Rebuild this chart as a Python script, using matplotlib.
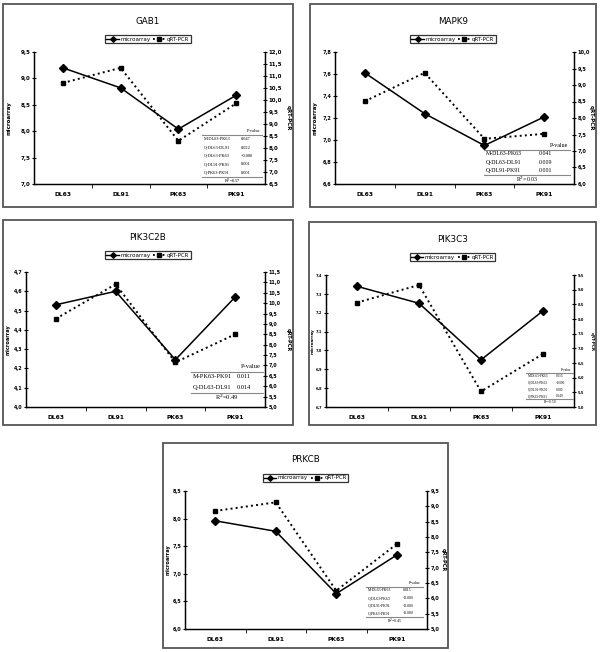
import matplotlib.pyplot as plt
from matplotlib.patches import Rectangle
from matplotlib.lines import Line2D

W, H = 600, 652

samples = ['DL63', 'DL91', 'PK63', 'PK91']

# microarray (left axis) and qRT-PCR (right axis) values
gab1_micro = [9.20, 8.82, 8.04, 8.68]
gab1_qpcr = [10.71, 11.34, 8.30, 9.86]
mapk9_micro = [7.61, 7.24, 6.95, 7.21]
mapk9_qpcr = [8.51, 9.37, 7.37, 7.52]
pik3c2b_micro = [4.53, 4.60, 4.245, 4.57]
pik3c2b_qpcr = [9.25, 10.91, 7.15, 8.50]
pik3c3_micro = [7.34, 7.25, 6.95, 7.21]
pik3c3_qpcr = [8.56, 9.16, 5.53, 6.81]
prkcb_micro = [7.96, 7.77, 6.64, 7.34]
prkcb_qpcr = [8.85, 9.13, 6.25, 7.77]

gab1_lticks = [7.0, 7.5, 8.0, 8.5, 9.0, 9.5]
gab1_rticks = [6.5, 7.0, 7.5, 8.0, 8.5, 9.0, 9.5, 10.0, 10.5, 11.0, 11.5, 12.0]
mapk9_lticks = [6.6, 6.8, 7.0, 7.2, 7.4, 7.6, 7.8]
mapk9_rticks = [6.0, 6.5, 7.0, 7.5, 8.0, 8.5, 9.0, 9.5, 10.0]
pik3c2b_lticks = [4.0, 4.1, 4.2, 4.3, 4.4, 4.5, 4.6, 4.7]
pik3c2b_rticks = [5.0, 5.5, 6.0, 6.5, 7.0, 7.5, 8.0, 8.5, 9.0, 9.5, 10.0, 10.5, 11.0, 11.5]
pik3c3_lticks = [6.7, 6.8, 6.9, 7.0, 7.1, 7.2, 7.3, 7.4]
pik3c3_rticks = [5.0, 5.5, 6.0, 6.5, 7.0, 7.5, 8.0, 8.5, 9.0, 9.5]
prkcb_lticks = [6.0, 6.5, 7.0, 7.5, 8.0, 8.5]
prkcb_rticks = [5.0, 5.5, 6.0, 6.5, 7.0, 7.5, 8.0, 8.5, 9.0, 9.5]

gab1_pvals = [('M-DL63-PK63', '0.047'), ('Q-DL63-DL91', '0.022'), ('Q-DL63-PK63', '<0.000'),
              ('Q-DL91-PK91', '0.001'), ('Q-PK63-PK91', '0.001')]
mapk9_pvals = [('M-DL63-PK63', '0.041'), ('Q-DL63-DL91', '0.009'), ('Q-DL91-PK91', '0.001')]
pik3c2b_pvals = [('M-PK63-PK91', '0.011'), ('Q-DL63-DL91', '0.014')]
pik3c3_pvals = [('M-DL63-PK63', '0.015'), ('Q-DL63-PK63', '<0.000'), ('Q-DL91-PK91', '0.000'),
                ('Q-PK63-PK91', '0.049')]
prkcb_pvals = [('M-DL63-PK63', '0.015'), ('Q-DL63-PK63', '<0.000'), ('Q-DL91-PK91', '<0.000'),
               ('Q-PK63-PK91', '<0.000')]

fig = plt.figure(figsize=(6, 6.52), dpi=100)


def fx(x):
    return x / W


def fy(y):
    return 1 - y / H


def fmt(v):
    return f'{v:.1f}'.replace('.', ',')


def panel(box, axbox, title, micro, qpcr, lticks, rticks, pvals, r2, tab,
          tfs=4.3, lfs=4.0, lx=5.5):
    x0, y0, x1, y1 = box
    fig.patches.append(Rectangle((fx(x0), fy(y1)), fx(x1 - x0), (y1 - y0) / H,
                                 transform=fig.transFigure, fill=False,
                                 ec='#555555', lw=1.3))
    ax0, ay0, ax1, ay1 = axbox
    ax = fig.add_axes([fx(ax0), fy(ay1), fx(ax1 - ax0), (ay1 - ay0) / H])
    ax2 = ax.twinx()
    xs = range(len(samples))
    ax.plot(xs, micro, '-', color='k', lw=1.1, marker='D', ms=3.8, zorder=3)
    ax2.plot(xs, qpcr, ':', color='k', lw=1.4, marker='s', ms=3.5)
    ax.set_xlim(-0.5, 3.5)
    ax.set_ylim(lticks[0], lticks[-1])
    ax2.set_ylim(rticks[0], rticks[-1])
    ax.set_yticks(lticks)
    ax.set_yticklabels([fmt(v) for v in lticks])
    ax2.set_yticks(rticks)
    ax2.set_yticklabels([fmt(v) for v in rticks])
    ax.set_xticks(list(xs))
    ax.set_xticklabels(samples, fontsize=4.3, fontweight='bold')
    ax.set_xticks([0.5, 1.5, 2.5], minor=True)
    ax.tick_params(axis='x', which='major', length=0, pad=6)
    ax.tick_params(axis='x', which='minor', length=3, direction='out')
    for a in (ax, ax2):
        a.tick_params(axis='y', length=3, direction='inout', labelsize=tfs,
                      width=0.8, pad=1.2)
        a.spines['top'].set_visible(False)
        for s in a.spines.values():
            s.set_linewidth(0.9)
        for lab in a.get_yticklabels():
            lab.set_fontweight('bold')
    ax.patch.set_visible(False)

    ymid = fy((ay0 + ay1) / 2)
    fig.text(fx(x0 + lx), ymid, 'microarray', rotation=90, ha='center', va='center',
             fontsize=lfs, fontweight='bold')
    fig.text(fx(x1 - 4.5), ymid, 'qRT-PCR', rotation=270, ha='center', va='center',
             fontsize=lfs, fontweight='bold')

    cx = (x0 + x1) / 2
    fig.text(fx(cx), fy(y0 + 17), title, ha='center', va='center', fontsize=6.3)
    handles = [Line2D([], [], color='k', ls='-', lw=1, marker='D', ms=2.8),
               Line2D([], [], color='k', ls=':', lw=1.3, marker='s', ms=2.8)]
    leg = fig.legend(handles, ['microarray', 'qRT-PCR'], loc='center',
                     bbox_to_anchor=(fx(cx), fy(y0 + 35)), ncol=2, fontsize=4,
                     frameon=True, fancybox=False, edgecolor='k', handlelength=2.2,
                     columnspacing=0.5, handletextpad=0.3, borderpad=0.25)
    leg.get_frame().set_linewidth(0.9)

    # p-value table
    tx0, tx1, ybot, rh, fs = tab
    n = len(pvals)
    yr2 = ybot - rh * 0.5
    yhead = ybot - rh * (n + 1.5)
    vx = tx0 + (tx1 - tx0) * 0.64
    fig.text(fx(tx1 - 2), fy(yhead), 'P-value', ha='right', va='center', fontsize=fs,
             family='Liberation Serif')
    for i, (lab, val) in enumerate(pvals):
        yy = yhead + rh * (i + 1)
        fig.text(fx(tx0 + 2), fy(yy), lab, ha='left', va='center', fontsize=fs,
                 family='Liberation Serif')
        fig.text(fx(vx), fy(yy), val, ha='left', va='center', fontsize=fs,
                 family='Liberation Serif')
    fig.text(fx((tx0 + tx1) / 2), fy(yr2), 'R$^2$=' + r2, ha='center', va='center',
             fontsize=fs, family='Liberation Serif')
    for yl in (yhead + rh * 0.5, ybot - rh):
        fig.add_artist(Line2D([fx(tx0), fx(tx1)], [fy(yl), fy(yl)],
                              transform=fig.transFigure, color='#888888', lw=0.8))


panel((3, 4, 293, 207), (34, 52, 265, 184), 'GAB1', gab1_micro, gab1_qpcr,
      gab1_lticks, gab1_rticks, gab1_pvals, '0.57', (202, 262, 185, 8.3, 3.2), tfs=4.0)
panel((310, 4, 596, 207), (335, 52, 574, 184), 'MAPK9', mapk9_micro, mapk9_qpcr,
      mapk9_lticks, mapk9_rticks, mapk9_pvals, '0.03', (484, 570, 183, 8.3, 4.2), tfs=3.6)
panel((3, 220, 293, 425), (26, 272, 265, 407), 'PIK3C2B', pik3c2b_micro, pik3c2b_qpcr,
      pik3c2b_lticks, pik3c2b_rticks, pik3c2b_pvals, '0.49', (191, 263, 403, 10.5, 4.6),
      tfs=3.5, lfs=3.6)
panel((309, 222, 596, 425), (326, 275, 574, 407), 'PIK3C3', pik3c3_micro, pik3c3_qpcr,
      pik3c3_lticks, pik3c3_rticks, pik3c3_pvals, '0.50', (526, 573, 406, 6.6, 2.4),
      tfs=2.6, lfs=3.0, lx=4.0)
panel((163, 443, 448, 648), (185, 491, 427, 629), 'PRKCB', prkcb_micro, prkcb_qpcr,
      prkcb_lticks, prkcb_rticks, prkcb_pvals, '0.45', (366, 423, 625, 7.7, 2.8),
      tfs=3.6, lfs=3.6)

fig.savefig('out.png', dpi=100)
